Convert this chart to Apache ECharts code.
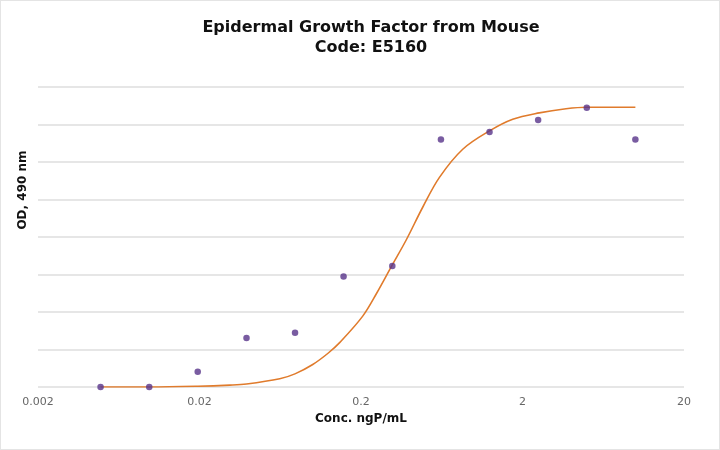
<!DOCTYPE html>
<html>
<head>
<meta charset="utf-8">
<script src="https://cdn.jsdelivr.net/npm/echarts@6/dist/echarts.min.js"></script>
<style>
html,body{margin:0;padding:0;background:#fff;}
#c{width:720px;height:450px;box-sizing:border-box;border:1px solid #e4e4e4;}
</style>
</head>
<body>
<div id="c"></div>
<script>
// Measured points: concentration (ng/mL) and OD 490 nm
const conc = [0.00488, 0.00977, 0.0195, 0.0391, 0.0781, 0.156, 0.3125, 0.625, 1.25, 2.5, 5, 10];
const od   = [0.00, 0.00, 0.41, 1.31, 1.45, 2.95, 3.23, 6.60, 6.80, 7.12, 7.45, 6.60];
// Fitted curve
const fitX = [0.00488, 0.00977, 0.0195, 0.0308, 0.0391, 0.0628, 0.078, 0.1005, 0.125, 0.148, 0.205, 0.25, 0.31, 0.381, 0.483, 0.612, 0.853, 1.25, 1.74, 2.54, 3.72, 5.0, 10];
const fitY = [0.00, 0.00, 0.02, 0.05, 0.08, 0.22, 0.35, 0.60, 0.90, 1.19, 1.89, 2.50, 3.23, 3.92, 4.80, 5.59, 6.34, 6.83, 7.14, 7.31, 7.42, 7.46, 7.46];
const xTicks = [0.002, 0.02, 0.2, 2, 20];
const xTickLabels = ['0.002', '0.02', '0.2', '2', '20'];

const chart = echarts.init(document.getElementById('c'), null, {renderer: 'canvas'});
const font = 'DejaVu Sans, Verdana, sans-serif';
chart.setOption({
  animation: false,
  title: {
    text: 'Epidermal Growth Factor from Mouse\nCode: E5160',
    left: 365, top: 12, textAlign: 'center',
    textStyle: {fontFamily: font, fontWeight: 'bold', fontSize: 16, color: '#111', lineHeight: 20}
  },
  grid: {left: 37, right: 35, top: 86, bottom: 62, containLabel: false},
  xAxis: {
    type: 'log', logBase: 10, min: 0.002, max: 20,
    name: 'Conc. ngP/mL', nameLocation: 'middle', nameGap: 21,
    nameTextStyle: {fontFamily: font, fontWeight: 'bold', fontSize: 12, color: '#111'},
    axisLine: {show: false},
    axisTick: {show: false},
    splitLine: {show: false},
    minorTick: {show: false},
    axisLabel: {
      customValues: xTicks,
      fontFamily: font, fontSize: 11, color: '#666', margin: 10,
      formatter: function (v) {
        let best = 0;
        xTicks.forEach((t, i) => { if (Math.abs(Math.log10(t) - Math.log10(v)) < Math.abs(Math.log10(xTicks[best]) - Math.log10(v))) best = i; });
        return xTickLabels[best];
      }
    }
  },
  yAxis: {
    type: 'value', min: 0, max: 8, interval: 1,
    name: 'OD, 490 nm', nameLocation: 'middle', nameGap: 9,
    nameTextStyle: {fontFamily: font, fontWeight: 'bold', fontSize: 12, color: '#111', padding: [0, 0, 0, 94]},
    axisLine: {show: false},
    axisTick: {show: false},
    axisLabel: {show: false},
    splitLine: {show: true, lineStyle: {color: '#dedede', width: 1.5}}
  },
  series: [
    {
      type: 'line',
      data: fitX.map((x, i) => [x, fitY[i]]),
      smooth: 0.35,
      showSymbol: false,
      symbol: 'none',
      lineStyle: {color: '#e07b2c', width: 1.6},
      z: 2
    },
    {
      type: 'scatter',
      data: conc.map((x, i) => [x, od[i]]),
      symbolSize: 6.5,
      itemStyle: {color: '#58338a'},
      z: 3
    }
  ]
});
</script>
</body>
</html>
